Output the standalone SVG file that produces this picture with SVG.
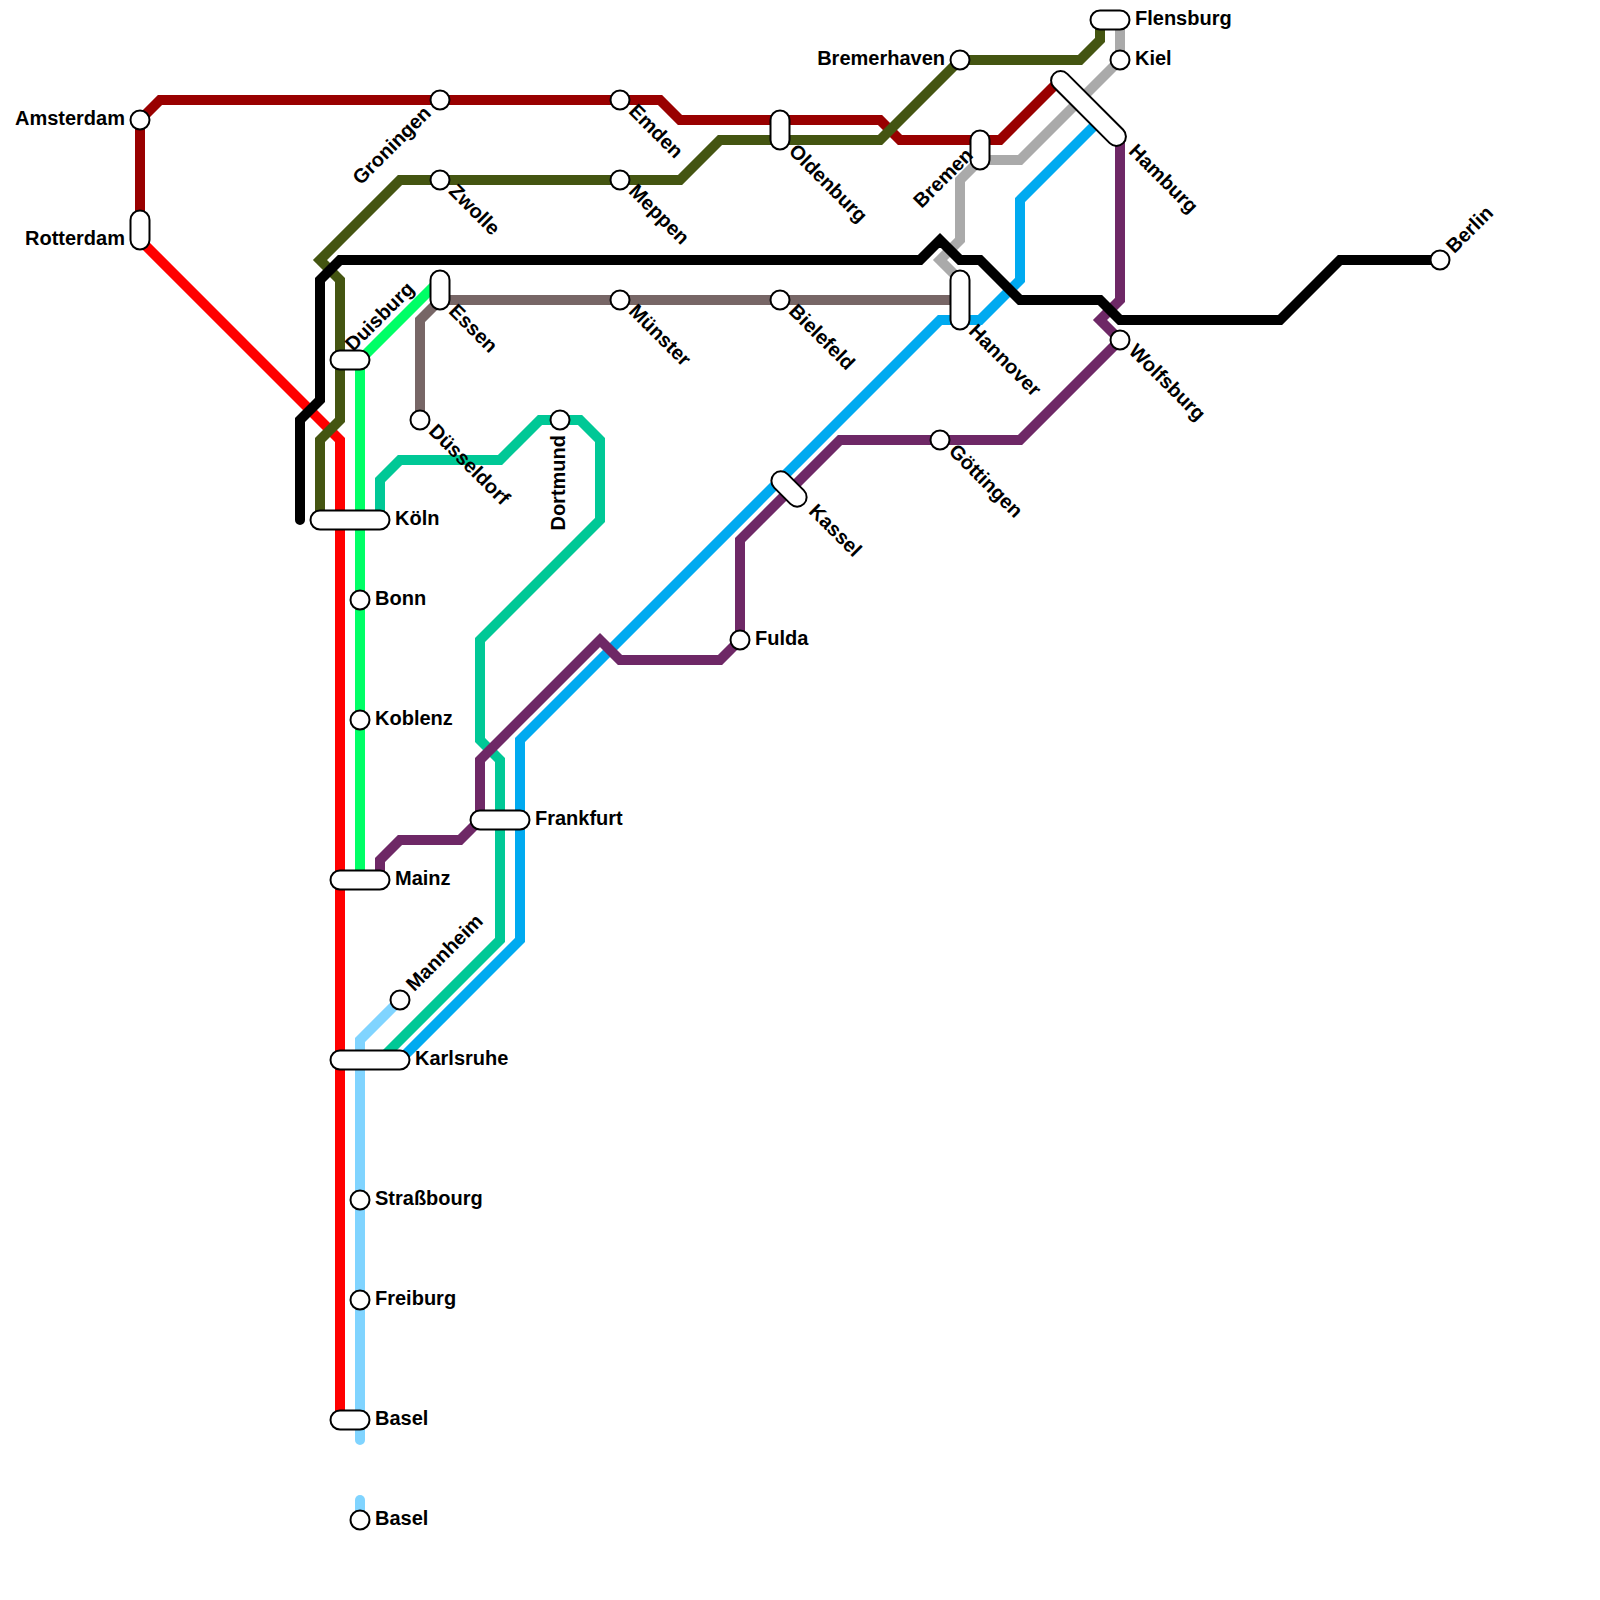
<svg xmlns="http://www.w3.org/2000/svg" width="1600" height="1600" viewBox="0 0 1600 1600">
<style>
.l{fill:none;stroke-width:10;stroke-linejoin:miter;stroke-linecap:butt}
.s{fill:#fff;stroke:#000;stroke-width:2}
text{font-family:"Liberation Sans",Arial,sans-serif;font-size:20px;font-weight:700;fill:#000}
.e{text-anchor:end}
</style>
<rect width="1600" height="1600" fill="#fff"/>
<g id="connectors">
<path class="l" stroke="#990000" d="M140 240V120L160 100H660L680 120H880L900 140H1000L1060 80"/>
<path class="l" stroke="#ff0000" d="M140 240L340 440V1420"/>
<path class="l" stroke="#00ff66" d="M360 880V360L440 280"/>
<path class="l" stroke="#776666" d="M420 420V320L440 300H960"/>
<path class="l" stroke="#00c896" d="M380 520V480L400 460H500L540 420H580L600 440V520L480 640V740L500 760V940L380 1060"/>
<path class="l" stroke="#00aaf0" d="M400 1060L520 940V740L940 320H980L1020 280V200L1100 120"/>
<path class="l" stroke="#80d4ff" style="stroke-linecap:round" d="M400 1000L360 1040V1440"/>
<path class="l" stroke="#80d4ff" style="stroke-linecap:round" d="M360 1500V1520"/>
<path class="l" stroke="#aaaaaa" d="M1120 20V60L1020 160H980L960 180V240L940 260L960 280"/>
<path class="l" stroke="#6e2866" d="M380 880V860L400 840H460L480 820V760L600 640L620 660H720L740 640V540L840 440H1020L1120 340L1100 320L1120 300V140"/>
<path class="l" stroke="#445511" d="M320 520V440L340 420V280L320 260L400 180H680L720 140H880L960 60H1080L1100 40V20"/>
<path class="l" stroke="#000000" style="stroke-linecap:round" d="M300 520V420L320 400V280L340 260H920L940 240L960 260H980L1020 300H1100L1120 320H1280L1340 260H1440"/>
</g>
<g id="amsterdam"><circle class="s" cx="140" cy="120" r="9.5"/><text class="e" x="125" y="125">Amsterdam</text></g>
<g id="rotterdam"><rect class="s" x="130.500" y="210.500" width="19" height="39" rx="9.500"/><text class="e" x="125" y="245">Rotterdam</text></g>
<g id="groningen"><circle class="s" cx="440" cy="100" r="9.5"/><text class="e" transform="rotate(-45 428 110)" x="428" y="116">Groningen</text></g>
<g id="emden"><circle class="s" cx="620" cy="100" r="9.5"/><text transform="rotate(45 632 108)" x="632" y="114">Emden</text></g>
<g id="oldenburg"><rect class="s" x="770.500" y="110.500" width="19" height="39" rx="9.500"/><text transform="rotate(45 792 148)" x="792" y="154">Oldenburg</text></g>
<g id="bremerhaven"><circle class="s" cx="960" cy="60" r="9.5"/><text class="e" x="945" y="65">Bremerhaven</text></g>
<g id="flensburg"><rect class="s" x="1090.500" y="10.500" width="39" height="19" rx="9.500"/><text x="1135" y="25">Flensburg</text></g>
<g id="kiel"><circle class="s" cx="1120" cy="60" r="9.5"/><text x="1135" y="65">Kiel</text></g>
<g id="hamburg"><rect class="s" x="1039.500" y="99" width="98" height="19" rx="9.500" transform="rotate(45 1088.500 108.500)"/><text transform="rotate(45 1132 148)" x="1132" y="154">Hamburg</text></g>
<g id="bremen"><rect class="s" x="970.500" y="130.500" width="19" height="39" rx="9.500"/><text class="e" transform="rotate(-45 970 152)" x="970" y="158">Bremen</text></g>
<g id="zwolle"><circle class="s" cx="440" cy="180" r="9.5"/><text transform="rotate(45 452 188)" x="452" y="194">Zwolle</text></g>
<g id="meppen"><circle class="s" cx="620" cy="180" r="9.5"/><text transform="rotate(45 632 188)" x="632" y="194">Meppen</text></g>
<g id="berlin"><circle class="s" cx="1440" cy="260" r="9.5"/><text transform="rotate(-45 1450 250)" x="1450" y="256">Berlin</text></g>
<g id="duisburg"><rect class="s" x="330.500" y="350.500" width="39" height="19" rx="9.500"/><text transform="rotate(-45 349 348)" x="349" y="354">Duisburg</text></g>
<g id="essen"><rect class="s" x="430.500" y="270.500" width="19" height="39" rx="9.500"/><text transform="rotate(45 452 308)" x="452" y="314">Essen</text></g>
<g id="muenster"><circle class="s" cx="620" cy="300" r="9.5"/><text transform="rotate(45 632 308)" x="632" y="314">Münster</text></g>
<g id="bielefeld"><circle class="s" cx="780" cy="300" r="9.5"/><text transform="rotate(45 792 308)" x="792" y="314">Bielefeld</text></g>
<g id="hannover"><rect class="s" x="950.500" y="270.500" width="19" height="59" rx="9.500"/><text transform="rotate(45 972 328)" x="972" y="334">Hannover</text></g>
<g id="wolfsburg"><circle class="s" cx="1120" cy="340" r="9.5"/><text transform="rotate(45 1132 348)" x="1132" y="354">Wolfsburg</text></g>
<g id="duesseldorf"><circle class="s" cx="420" cy="420" r="9.5"/><text transform="rotate(45 432 428)" x="432" y="434">Düsseldorf</text></g>
<g id="dortmund"><circle class="s" cx="560" cy="420" r="9.5"/><text class="e" transform="rotate(-90 560 435)" x="560" y="440">Dortmund</text></g>
<g id="goettingen"><circle class="s" cx="940" cy="440" r="9.5"/><text transform="rotate(45 952 448)" x="952" y="454">Göttingen</text></g>
<g id="kassel"><rect class="s" x="768" y="479.500" width="42" height="19" rx="9.500" transform="rotate(45 789 489)"/><text transform="rotate(45 812 508)" x="812" y="514">Kassel</text></g>
<g id="koeln"><rect class="s" x="310.500" y="510.500" width="79" height="19" rx="9.500"/><text x="395" y="525">Köln</text></g>
<g id="bonn"><circle class="s" cx="360" cy="600" r="9.5"/><text x="375" y="605">Bonn</text></g>
<g id="fulda"><circle class="s" cx="740" cy="640" r="9.5"/><text x="755" y="645">Fulda</text></g>
<g id="koblenz"><circle class="s" cx="360" cy="720" r="9.5"/><text x="375" y="725">Koblenz</text></g>
<g id="frankfurt"><rect class="s" x="470.500" y="810.500" width="59" height="19" rx="9.500"/><text x="535" y="825">Frankfurt</text></g>
<g id="mainz"><rect class="s" x="330.500" y="870.500" width="59" height="19" rx="9.500"/><text x="395" y="885">Mainz</text></g>
<g id="mannheim"><circle class="s" cx="400" cy="1000" r="9.5"/><text transform="rotate(-45 410 988)" x="410" y="994">Mannheim</text></g>
<g id="karlsruhe"><rect class="s" x="330.500" y="1050.500" width="79" height="19" rx="9.500"/><text x="415" y="1065">Karlsruhe</text></g>
<g id="strassbourg"><circle class="s" cx="360" cy="1200" r="9.5"/><text x="375" y="1205">Straßbourg</text></g>
<g id="freiburg"><circle class="s" cx="360" cy="1300" r="9.5"/><text x="375" y="1305">Freiburg</text></g>
<g id="basel-a"><rect class="s" x="330.500" y="1410.500" width="39" height="19" rx="9.500"/><text x="375" y="1425">Basel</text></g>
<g id="basel-b"><circle class="s" cx="360" cy="1520" r="9.5"/><text x="375" y="1525">Basel</text></g>
</svg>
